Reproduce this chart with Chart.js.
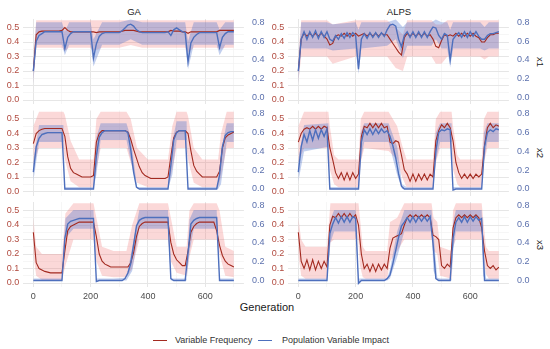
<!DOCTYPE html>
<html>
<head>
<meta charset="utf-8">
<script src="https://cdn.jsdelivr.net/npm/chart.js@4.4.0/dist/chart.umd.min.js"></script>
<style>
  body { margin: 0; background: #fff; width: 550px; height: 349px; overflow: hidden; position: relative;
         font-family: "Liberation Sans", Arial, sans-serif; }
  canvas { position: absolute; }
  .t { position: absolute; white-space: nowrap; color: #1a1a1a; transform: translate(-50%, -50%); }
  .strip { font-size: 9.5px; }
  .side { font-size: 9.5px; transform: translate(-50%, -50%) rotate(90deg); }
  .key { position: absolute; height: 0; border-top: 1.5px solid; }
  .lab { position: absolute; font-size: 9px; color: #333; transform: translateY(-50%); }
</style>
</head>
<body>
<div class="t strip" style="left:134px; top:11px;">GA</div>
<div class="t strip" style="left:399px; top:11px;">ALPS</div>
<div class="t side" style="left:540px; top:61.5px;">x1</div>
<div class="t side" style="left:540px; top:153px;">x2</div>
<div class="t side" style="left:540px; top:244.5px;">x3</div>
<div class="t" style="left:267px; top:307px; font-size:11px;">Generation</div>
<div class="key" style="left:153px; top:339.5px; width:14px; border-color:#a32a20;"></div>
<div class="lab" style="left:175px; top:340px;">Variable Frequency</div>
<div class="key" style="left:258px; top:339.5px; width:14px; border-color:#4d6fbd;"></div>
<div class="lab" style="left:282px; top:340px;">Population Variable Impact</div>
<script>
// generations of the mean curves
const GEN = [0,10,20,30,40,50,60,70,80,90,100,110,120,130,140,150,160,170,180,190,200,
  210,220,230,240,250,260,270,280,290,300,310,320,330,340,350,360,370,380,390,400,
  410,420,430,440,450,460,470,480,490,500,510,520,530,540,550,560,570,580,590,600,
  610,620,630,640,650,660,670,680,690,700];

const X_GRID = [0, 100, 200, 300, 400, 500, 600, 700];
const X_TICKS = [0, 200, 400, 600];
const Y_GRID = [0, 0.05, 0.1, 0.15, 0.2, 0.25, 0.3, 0.35, 0.4, 0.45, 0.5];
const Y2_TICKS = [0, 0.2, 0.4, 0.6, 0.8];

// ---- GA x1
const gaX1Red = [0.20,0.45,0.47,0.475,0.475,0.475,0.475,0.475,0.475,0.475,0.48,
  0.50,0.48,0.47,0.47,0.47,0.47,0.47,0.47,0.47,0.47,
  0.47,0.465,0.47,0.47,0.47,0.47,0.47,0.47,0.47,0.47,
  0.475,0.48,0.48,0.48,0.48,0.475,0.47,0.47,0.47,0.47,
  0.47,0.47,0.47,0.47,0.47,0.47,0.47,0.48,0.475,0.475,
  0.475,0.47,0.47,0.46,0.47,0.47,0.47,0.47,0.47,0.47,
  0.47,0.47,0.47,0.47,0.48,0.48,0.48,0.48,0.48,0.48];
const gaX1Blue = [0.28,0.60,0.66,0.68,0.70,0.70,0.70,0.70,0.70,0.70,0.70,
  0.52,0.64,0.68,0.70,0.70,0.70,0.70,0.70,0.70,0.70,
  0.42,0.57,0.65,0.68,0.69,0.69,0.69,0.69,0.69,0.69,
  0.71,0.74,0.77,0.78,0.76,0.72,0.70,0.69,0.69,0.69,
  0.69,0.69,0.69,0.69,0.69,0.69,0.70,0.66,0.72,0.74,
  0.72,0.70,0.69,0.38,0.58,0.64,0.67,0.69,0.69,0.69,
  0.69,0.69,0.69,0.69,0.53,0.64,0.68,0.70,0.70,0.70];
const gaX1Band = [0,10,100,110,125,200,210,240,300,340,380,530,540,560,640,650,670,700];
const gaX1RedLo = [0.12,0.36,0.36,0.34,0.36,0.36,0.34,0.36,0.36,0.38,0.36,0.36,0.33,0.36,0.36,0.35,0.36,0.36];
const gaX1RedHi = [0.30,0.55,0.55,0.55,0.55,0.55,0.55,0.55,0.55,0.55,0.55,0.55,0.55,0.55,0.55,0.55,0.55,0.55];
const gaX1BlueLo = [0.15,0.56,0.56,0.45,0.56,0.56,0.33,0.56,0.56,0.62,0.56,0.56,0.30,0.56,0.56,0.45,0.56,0.56];
const gaX1BlueHi = [0.35,0.80,0.80,0.70,0.80,0.80,0.62,0.80,0.80,0.83,0.80,0.80,0.60,0.80,0.80,0.72,0.80,0.80];

// ---- ALPS x1
const alpsX1Red = [0.20,0.42,0.46,0.44,0.46,0.44,0.46,0.44,0.46,0.44,0.42,
  0.38,0.39,0.44,0.45,0.44,0.46,0.44,0.46,0.44,0.46,
  0.44,0.45,0.46,0.44,0.46,0.44,0.46,0.44,0.46,0.45,
  0.45,0.42,0.39,0.36,0.33,0.31,0.43,0.46,0.44,0.46,
  0.44,0.46,0.44,0.46,0.44,0.45,0.42,0.37,0.36,0.41,
  0.45,0.44,0.45,0.44,0.46,0.44,0.46,0.44,0.46,0.44,
  0.46,0.44,0.43,0.40,0.40,0.43,0.45,0.45,0.46,0.46];
const alpsX1Blue = [0.28,0.62,0.70,0.62,0.70,0.64,0.71,0.63,0.70,0.64,0.70,
  0.62,0.60,0.66,0.62,0.68,0.63,0.69,0.64,0.69,0.66,
  0.30,0.62,0.68,0.63,0.69,0.64,0.69,0.64,0.69,0.65,
  0.72,0.77,0.78,0.76,0.62,0.54,0.66,0.70,0.64,0.70,
  0.64,0.70,0.64,0.70,0.64,0.70,0.75,0.74,0.66,0.62,
  0.68,0.66,0.40,0.62,0.66,0.69,0.64,0.70,0.64,0.70,
  0.65,0.70,0.65,0.62,0.62,0.66,0.68,0.68,0.69,0.70];
const alpsX1Band = [0,10,100,120,200,210,220,310,340,365,380,465,480,500,520,530,540,635,650,665,700];
const alpsX1RedLo = [0.12,0.30,0.30,0.25,0.30,0.30,0.30,0.30,0.22,0.20,0.30,0.30,0.25,0.25,0.30,0.30,0.30,0.30,0.28,0.30,0.30];
const alpsX1RedHi = [0.30,0.55,0.55,0.52,0.55,0.55,0.55,0.55,0.50,0.45,0.55,0.55,0.52,0.52,0.55,0.55,0.55,0.55,0.55,0.55,0.55];
const alpsX1BlueLo = [0.15,0.52,0.52,0.50,0.52,0.25,0.52,0.55,0.62,0.42,0.55,0.55,0.62,0.52,0.52,0.32,0.52,0.52,0.50,0.52,0.52];
const alpsX1BlueHi = [0.35,0.80,0.80,0.78,0.80,0.72,0.80,0.80,0.83,0.75,0.80,0.80,0.83,0.80,0.80,0.72,0.80,0.80,0.75,0.80,0.80];

// ---- GA x2
const gaX2Red = [0.33,0.40,0.42,0.43,0.435,0.435,0.435,0.435,0.435,0.435,0.435,
  0.38,0.24,0.16,0.13,0.12,0.11,0.10,0.10,0.10,0.10,
  0.11,0.34,0.40,0.42,0.42,0.42,0.42,0.42,0.42,0.42,
  0.42,0.42,0.41,0.36,0.29,0.23,0.17,0.13,0.11,0.10,
  0.09,0.09,0.09,0.09,0.09,0.09,0.10,0.24,0.37,0.41,
  0.42,0.42,0.42,0.40,0.28,0.18,0.14,0.12,0.10,0.10,
  0.10,0.10,0.10,0.10,0.14,0.30,0.37,0.39,0.40,0.41];
const gaX2Blue = [0.18,0.45,0.54,0.58,0.59,0.60,0.60,0.60,0.60,0.60,0.60,
  0,0,0,0,0,0,0,0,0,0,
  0,0.35,0.55,0.60,0.62,0.62,0.62,0.62,0.62,0.62,
  0.62,0.62,0.60,0.42,0.18,0.02,0,0,0,0,
  0,0,0,0,0,0,0,0.25,0.52,0.60,
  0.62,0.62,0.62,0,0,0,0,0,0,0,
  0,0,0,0,0.15,0.45,0.57,0.60,0.61,0.61];
const gaX2Band = [0,20,105,110,130,160,210,220,235,325,340,362,400,470,485,500,535,540,560,590,645,655,675,700];
const gaX2RedLo = [0.18,0.30,0.30,0.22,0.07,0.03,0.03,0.15,0.30,0.30,0.20,0.06,0.03,0.03,0.15,0.30,0.30,0.22,0.06,0.03,0.03,0.10,0.30,0.30];
const gaX2RedHi = [0.45,0.55,0.55,0.53,0.35,0.22,0.22,0.50,0.55,0.55,0.50,0.30,0.22,0.22,0.45,0.55,0.55,0.52,0.30,0.22,0.22,0.40,0.55,0.55];
const gaX2BlueLo = [0.08,0.50,0.50,0,0,0,0,0.15,0.52,0.52,0.30,0,0,0,0.15,0.52,0.52,0,0,0,0,0.05,0.50,0.50];
const gaX2BlueHi = [0.30,0.68,0.68,0.02,0.02,0.02,0.02,0.55,0.70,0.70,0.55,0.02,0.02,0.02,0.50,0.72,0.72,0.02,0.02,0.02,0.02,0.40,0.70,0.70];

// ---- ALPS x2
const alpsX2Red = [0.34,0.40,0.43,0.44,0.43,0.45,0.43,0.45,0.43,0.45,0.44,
  0.30,0.22,0.13,0.09,0.13,0.08,0.13,0.08,0.13,0.09,
  0.12,0.38,0.45,0.44,0.47,0.44,0.47,0.44,0.47,0.44,
  0.45,0.34,0.33,0.35,0.34,0.25,0.15,0.12,0.07,0.12,
  0.07,0.12,0.08,0.12,0.08,0.12,0.10,0.35,0.42,0.46,
  0.44,0.47,0.44,0.35,0.20,0.13,0.09,0.12,0.09,0.12,
  0.09,0.12,0.10,0.12,0.32,0.44,0.47,0.44,0.46,0.45];
const alpsX2Blue = [0.18,0.45,0.58,0.50,0.62,0.52,0.63,0.54,0.63,0.56,0.64,
  0,0,0,0,0,0,0,0,0,0,
  0,0.50,0.63,0.58,0.64,0.58,0.64,0.59,0.64,0.60,
  0.62,0.56,0.46,0.33,0.16,0.03,0,0,0,0,
  0,0,0,0,0,0,0,0.40,0.60,0.63,
  0.62,0.64,0.63,-0.01,0,0,0,0,0,0,
  0,0,0,0,0.45,0.60,0.63,0.61,0.64,0.63];
const alpsX2Band = [0,20,105,110,125,140,210,218,230,315,345,362,378,470,480,495,535,540,555,565,640,648,660,700];
const alpsX2RedLo = [0.20,0.30,0.30,0.15,0.05,0.03,0.03,0.20,0.30,0.28,0.22,0.10,0.03,0.03,0.20,0.30,0.30,0.15,0.05,0.03,0.03,0.20,0.30,0.30];
const alpsX2RedHi = [0.45,0.55,0.55,0.45,0.25,0.22,0.22,0.50,0.55,0.55,0.45,0.32,0.22,0.22,0.50,0.55,0.55,0.45,0.25,0.22,0.22,0.50,0.55,0.55];
const alpsX2BlueLo = [0.08,0.40,0.45,0,0,0,0,0.30,0.50,0.50,0.15,0,0,0,0.30,0.50,0.50,0,0,0,0,0.30,0.50,0.50];
const alpsX2BlueHi = [0.30,0.68,0.70,0.02,0.02,0.02,0.02,0.60,0.70,0.70,0.45,0.05,0.02,0.02,0.60,0.70,0.70,0.02,0.02,0.02,0.02,0.60,0.70,0.70];

// ---- GA x3
const gaX3Red = [0.35,0.14,0.10,0.09,0.08,0.075,0.07,0.07,0.07,0.07,0.07,
  0.22,0.36,0.39,0.40,0.41,0.42,0.42,0.42,0.42,0.42,
  0.42,0.32,0.20,0.15,0.13,0.12,0.11,0.11,0.11,0.11,
  0.11,0.11,0.11,0.14,0.21,0.32,0.39,0.41,0.42,0.42,
  0.42,0.42,0.42,0.42,0.42,0.42,0.42,0.28,0.20,0.16,
  0.14,0.12,0.12,0.22,0.35,0.39,0.41,0.42,0.42,0.42,
  0.42,0.42,0.42,0.36,0.26,0.19,0.15,0.13,0.12,0.11];
const gaX3Blue = [0,0,0,0,0,0,0,0,0,0,0,
  0.45,0.60,0.63,0.64,0.65,0.66,0.66,0.66,0.66,0.66,
  0.66,-0.01,0,0,0,0,0,0,0,0,
  0,0.02,0.08,0.18,0.38,0.58,0.64,0.66,0.67,0.67,
  0.67,0.67,0.67,0.67,0.67,0.67,0.67,0.02,0,0,
  0,0,0,0.30,0.60,0.64,0.66,0.67,0.67,0.67,
  0.67,0.67,0.67,0.67,0,0,0,0,0,0];
const gaX3Band = [0,10,30,100,112,140,210,220,240,280,325,345,370,470,480,500,535,545,560,640,650,670,700];
const gaX3RedLo = [0.20,0.05,0.02,0.02,0.12,0.30,0.30,0.15,0.05,0.04,0.04,0.10,0.30,0.30,0.15,0.07,0.05,0.18,0.30,0.30,0.20,0.05,0.04];
const gaX3RedHi = [0.45,0.25,0.20,0.20,0.48,0.55,0.55,0.45,0.25,0.22,0.22,0.40,0.55,0.55,0.45,0.25,0.25,0.50,0.55,0.55,0.50,0.25,0.22];
const gaX3BlueLo = [0,0,0,0,0.45,0.55,0.55,0,0,0,0,0.10,0.55,0.55,0,0,0,0.30,0.55,0.55,0,0,0];
const gaX3BlueHi = [0.02,0.02,0.02,0.02,0.66,0.75,0.75,0.02,0.02,0.02,0.03,0.35,0.75,0.75,0.02,0.02,0.02,0.65,0.75,0.75,0.02,0.02,0.02];

// ---- ALPS x3
const alpsX3Red = [0.35,0.15,0.10,0.16,0.09,0.16,0.09,0.15,0.10,0.15,0.11,
  0.40,0.46,0.45,0.48,0.45,0.48,0.45,0.48,0.45,0.47,
  0.40,0.20,0.10,0.13,0.08,0.13,0.08,0.13,0.09,0.13,
  0.10,0.24,0.31,0.32,0.33,0.34,0.40,0.45,0.47,0.45,
  0.47,0.45,0.47,0.45,0.47,0.45,0.33,0.32,0.30,0.12,
  0.10,0.13,0.11,0.38,0.45,0.47,0.45,0.47,0.45,0.47,
  0.45,0.47,0.45,0.38,0.22,0.12,0.10,0.12,0.09,0.11];
const alpsX3Blue = [0,0,0,0,0,0,0,0,0,0,0,
  0.50,0.60,0.67,0.61,0.68,0.62,0.68,0.62,0.68,0.66,
  -0.03,0,0,0,0,0,0,0,0,0,
  0.02,0.06,0.18,0.32,0.46,0.58,0.62,0.67,0.62,0.68,
  0.62,0.68,0.63,0.68,0.63,0.68,0.40,0.02,0,0,
  0,0,0,0.45,0.62,0.67,0.62,0.68,0.62,0.68,
  0.63,0.68,0.64,0.66,0,0,0,0,0,0];
const alpsX3Band = [0,10,25,100,112,125,200,210,215,225,235,310,320,345,370,465,472,485,495,535,540,550,640,645,655,665,700];
const alpsX3RedLo = [0.20,0.05,0.03,0.03,0.28,0.30,0.30,0.30,0.12,0.04,0.03,0.03,0.15,0.22,0.30,0.30,0.22,0.20,0.05,0.03,0.25,0.30,0.30,0.20,0.06,0.03,0.03];
const alpsX3RedHi = [0.45,0.30,0.25,0.25,0.55,0.55,0.55,0.55,0.45,0.25,0.22,0.22,0.42,0.45,0.55,0.55,0.45,0.42,0.25,0.22,0.50,0.55,0.55,0.45,0.25,0.22,0.22];
const alpsX3BlueLo = [0,0,0,0,0.40,0.52,0.52,-0.03,0,0,0,0,0.02,0.25,0.52,0.52,0.10,0,0,0,0.30,0.52,0.52,0.05,0,0,0];
const alpsX3BlueHi = [0.02,0.02,0.02,0.02,0.65,0.75,0.75,0.02,0.02,0.02,0.02,0.02,0.12,0.52,0.75,0.75,0.50,0.03,0.02,0.02,0.62,0.75,0.75,0.35,0.02,0.02,0.02];

const RED = '#a32a20';
const BLUE = '#4d6fbd';
const RED_BAND = 'rgba(238,105,105,0.26)';
const BLUE_BAND = 'rgba(75,115,205,0.34)';
const LEFT_TXT = '#b14a3f';
const RIGHT_TXT = '#5b70ad';
const GRID_MAJOR = '#e6e6e6';
const GRID_MINOR = '#f0f0f0';

Chart.defaults.font.family = '"Liberation Sans", Arial, sans-serif';
Chart.defaults.font.size = 9;

const COL_X = [0, 265];
const ZERO_Y = [100, 191.5, 283];   // pixel row of left 0.0 in each row
const CANVAS_W = 280;
const AREA_L = 23.3, AREA_R = 243.9;

function pts(xs, ys) {
  return xs.map((x, i) => ({ x: x, y: ys[i] }));
}

function panel(col, row, red, blue, band, redLo, redHi, blueLo, blueHi) {
  const bottomRow = row === 2;
  const panelTop = ZERO_Y[row] - 81;
  const top = Math.floor(panelTop - 6);
  const padTop = panelTop - top;
  const h = bottomRow ? Math.round(padTop + 85 + 16) : Math.round(padTop + 85 + 6);
  const cv = document.createElement('canvas');
  cv.width = CANVAS_W;
  cv.height = h;
  cv.style.left = COL_X[col] + 'px';
  cv.style.top = top + 'px';
  document.body.appendChild(cv);

  const flat = { borderWidth: 0, pointRadius: 0, tension: 0 };
  new Chart(cv, {
    type: 'line',
    data: {
      datasets: [
        Object.assign({ data: pts(band, redLo), yAxisID: 'y', fill: false, order: 4 }, flat),
        Object.assign({ data: pts(band, redHi), yAxisID: 'y', fill: '-1', backgroundColor: RED_BAND, order: 4 }, flat),
        Object.assign({ data: pts(band, blueLo), yAxisID: 'y2', fill: false, order: 3 }, flat),
        Object.assign({ data: pts(band, blueHi), yAxisID: 'y2', fill: '-1', backgroundColor: BLUE_BAND, order: 3 }, flat),
        { data: pts(GEN, red), yAxisID: 'y', borderColor: RED, borderWidth: 1.1, pointRadius: 0, fill: false, order: 1 },
        { data: pts(GEN, blue), yAxisID: 'y2', borderColor: BLUE, borderWidth: 1.4, pointRadius: 0, fill: false, order: 0 }
      ]
    },
    options: {
      responsive: false,
      animation: false,
      devicePixelRatio: 1,
      layout: { padding: { top: padTop, bottom: bottomRow ? 0 : h - padTop - 85, left: 0, right: 0 } },
      plugins: { legend: { display: false }, tooltip: { enabled: false } },
      scales: {
        x: {
          type: 'linear', min: -35, max: 735,
          afterBuildTicks: s => { s.ticks = X_GRID.map(v => ({ value: v })); },
          afterFit: s => { s.height = bottomRow ? 16 : 0; s.paddingLeft = 0; s.paddingRight = 0; },
          ticks: { display: bottomRow, autoSkip: false, maxRotation: 0, padding: 4, color: '#4d4d4d',
                   callback: v => X_TICKS.includes(v) ? String(v) : '' },
          grid: { drawTicks: false,
                  color: c => X_TICKS.includes(c.tick.value) ? GRID_MAJOR : GRID_MINOR,
                  lineWidth: c => X_TICKS.includes(c.tick.value) ? 1 : 0.6 },
          border: { display: false }
        },
        y: {
          position: 'left', min: -4 / 145, max: 81 / 145,
          afterBuildTicks: s => { s.ticks = Y_GRID.map(v => ({ value: v })); },
          afterFit: s => { s.width = AREA_L; s.paddingTop = 0; s.paddingBottom = 0; },
          ticks: { autoSkip: false, padding: 4, color: LEFT_TXT,
                   callback: (v, i) => i % 2 === 0 ? v.toFixed(1) : '' },
          grid: { drawTicks: false,
                  color: c => c.index % 2 === 0 ? GRID_MAJOR : GRID_MINOR,
                  lineWidth: c => c.index % 2 === 0 ? 1 : 0.6 },
          border: { display: false }
        },
        y2: {
          position: 'right', min: -6.5 / 94, max: 78.5 / 94,
          afterBuildTicks: s => { s.ticks = Y2_TICKS.map(v => ({ value: v })); },
          afterFit: s => { s.width = CANVAS_W - AREA_R; s.paddingTop = 0; s.paddingBottom = 0; },
          ticks: { autoSkip: false, padding: 8, color: RIGHT_TXT, callback: v => v.toFixed(1) },
          grid: { display: false, drawTicks: false },
          border: { display: false }
        }
      }
    }
  });
}

panel(0, 0, gaX1Red, gaX1Blue, gaX1Band, gaX1RedLo, gaX1RedHi, gaX1BlueLo, gaX1BlueHi);
panel(1, 0, alpsX1Red, alpsX1Blue, alpsX1Band, alpsX1RedLo, alpsX1RedHi, alpsX1BlueLo, alpsX1BlueHi);
panel(0, 1, gaX2Red, gaX2Blue, gaX2Band, gaX2RedLo, gaX2RedHi, gaX2BlueLo, gaX2BlueHi);
panel(1, 1, alpsX2Red, alpsX2Blue, alpsX2Band, alpsX2RedLo, alpsX2RedHi, alpsX2BlueLo, alpsX2BlueHi);
panel(0, 2, gaX3Red, gaX3Blue, gaX3Band, gaX3RedLo, gaX3RedHi, gaX3BlueLo, gaX3BlueHi);
panel(1, 2, alpsX3Red, alpsX3Blue, alpsX3Band, alpsX3RedLo, alpsX3RedHi, alpsX3BlueLo, alpsX3BlueHi);
</script>
</body>
</html>
